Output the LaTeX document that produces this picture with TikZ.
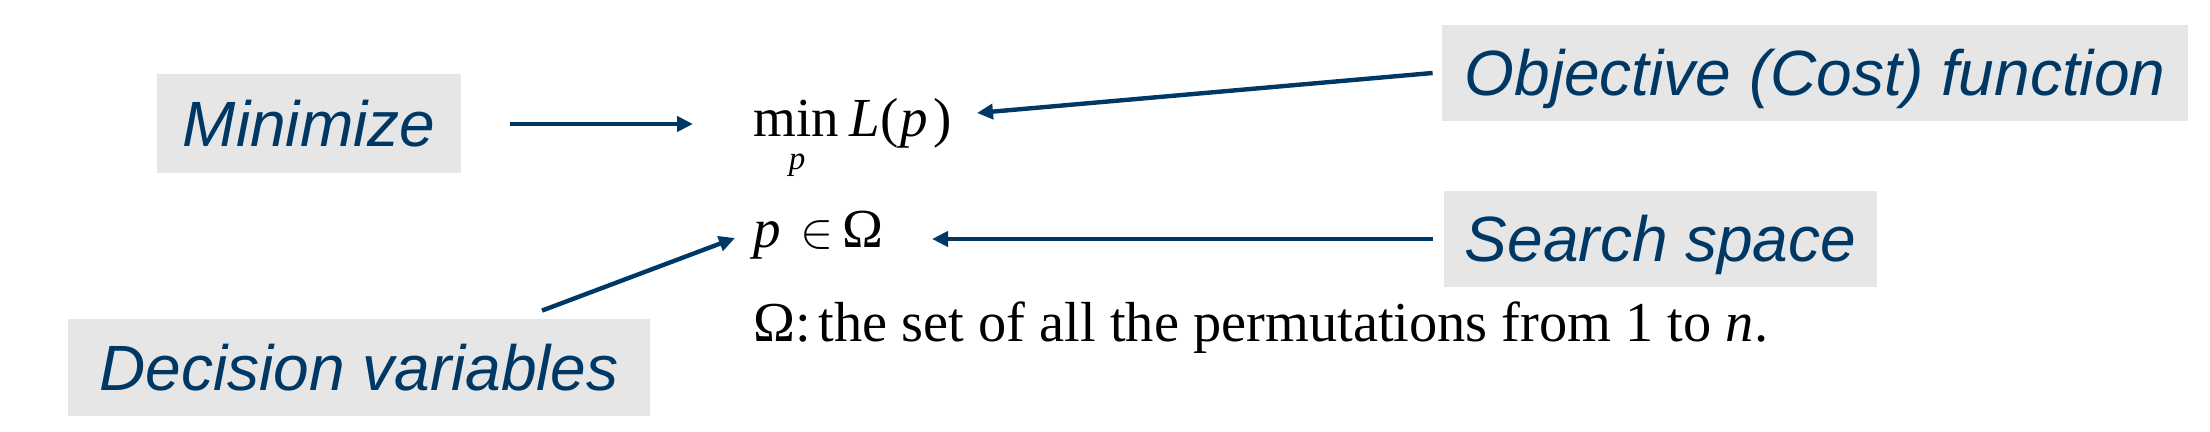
\documentclass[tikz,border=0pt]{standalone}
\usepackage{fontspec}
\setmainfont{Liberation Serif}
\newfontfamily\lblfont{Liberation Sans}
\usetikzlibrary{arrows.meta}
\definecolor{navy}{RGB}{0,56,101}
\definecolor{boxgray}{RGB}{230,230,230}
\begin{document}
\begin{tikzpicture}[x=0.5pt,y=-0.5pt,
  lbl/.style={fill=boxgray, text=navy, font=\lblfont\itshape\fontsize{32pt}{36pt}\selectfont,
    inner sep=0pt, text height=23pt, text depth=0pt},
  conn/.style={draw=navy, line width=2.2pt, -{Triangle[length=8pt,width=7.5pt]}},
  mtext/.style={font=\fontsize{27.5pt}{33pt}\selectfont, inner sep=0pt, anchor=base west}]
\useasboundingbox (0,0) rectangle (2210,432);
% label boxes
\node[lbl, minimum width=152pt, minimum height=49.5pt] (minimize) at (309,123.5) {Minimize};
\node[lbl, minimum width=373pt, minimum height=48pt] (objective) at (1815,73) {Objective (Cost) function};
\node[lbl, minimum width=216.5pt, minimum height=48pt] (search) at (1660.5,239) {Search space};
\node[lbl, minimum width=291pt, minimum height=48.5pt] (decision) at (359,367.5) {Decision variables};
% formulas
\node[mtext] (minop) at (753,137) {min};
\node[mtext] (Lp) at (849,137) {\textit{L}(\kern1pt\textit{p}\kern3pt)};
\node[font=\fontsize{16.5pt}{20pt}\selectfont\itshape, inner sep=0pt, anchor=base] (sub) at (797,170) {p};
\node[mtext] (pin) at (753,248) {\textit{p}\kern10pt$\in$\kern4pt Ω};
\node[mtext, font=\fontsize{28.2pt}{34pt}\selectfont] (omega) at (753,342)
  {Ω:\kern4pt the set of all the permutations from 1 to \textit{n}.};
% arrow end points
\coordinate (headMin) at (693,124);
\coordinate (headObj) at (977,113);
\coordinate (headSearch) at (932,239);
\coordinate (headDec) at (735,238);
% connectors
\draw[conn] ([xshift=24.5pt,yshift=-0.25pt]minimize.east) -- (headMin);
\draw[conn] ([xshift=-4.5pt]objective.west) -- (headObj);
\draw[conn] ([xshift=-5.5pt]search.west) -- (headSearch);
\draw[conn] ([xshift=91.5pt,yshift=4pt]decision.north) -- (headDec);
\end{tikzpicture}
\end{document}
